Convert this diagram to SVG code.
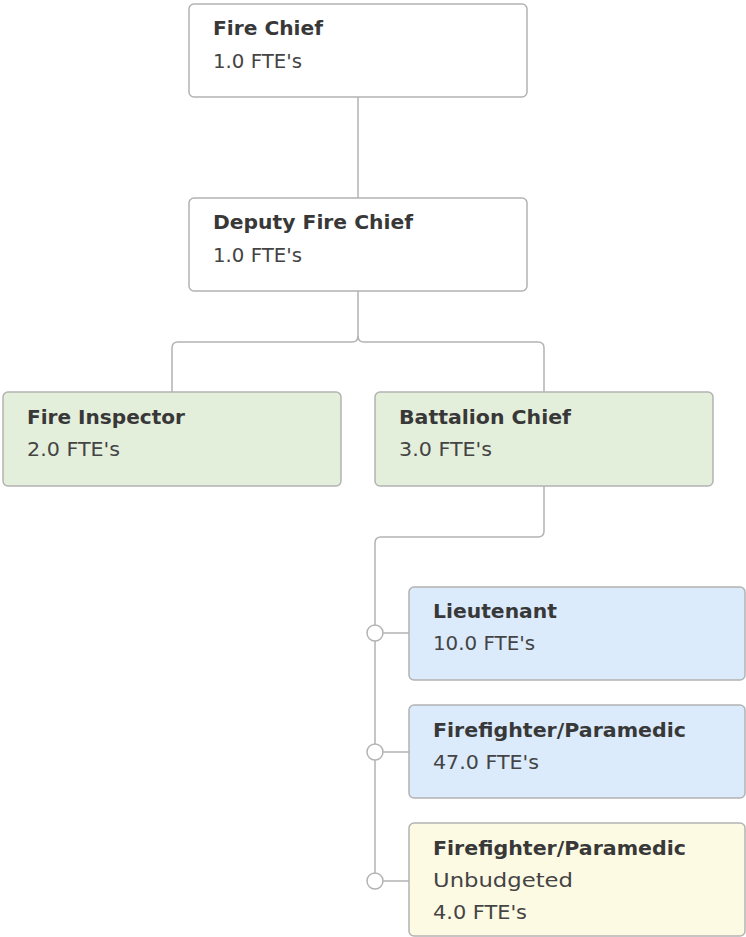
<svg xmlns="http://www.w3.org/2000/svg" width="746" height="937" viewBox="0 0 746 937">
  <style>
    .box { stroke: #b3b3b3; stroke-width: 1.5; }
    .white { fill: #ffffff; }
    .green { fill: #e4efdb; }
    .blue { fill: #dbebfc; }
    .yellow { fill: #fdfae4; }
    .title { font-family: "DejaVu Sans", "Liberation Sans", sans-serif; font-weight: bold; font-size: 19.5px; fill: #383838; }
    .sub { font-family: "DejaVu Sans", "Liberation Sans", sans-serif; font-size: 19.5px; fill: #444444; }
    .link { fill: none; stroke: #b3b3b3; stroke-width: 1.5; }
    .dot { fill: #ffffff; stroke: #b3b3b3; stroke-width: 1.5; }
  </style>

  <g id="connectors">
    <path class="link" d="M358 97 V198"/>
    <path class="link" d="M358 291 V336 Q358 342 352 342 H178 Q172 342 172 348 V392"/>
    <path class="link" d="M358 336 Q358 342 364 342 H538 Q544 342 544 348 V392"/>
    <path class="link" d="M544 486 V531 Q544 537 538 537 H381 Q375 537 375 543 V873"/>
    <path class="link" d="M383 633 H409"/>
    <path class="link" d="M383 752 H409"/>
    <path class="link" d="M383 881 H409"/>
    <circle class="dot" cx="375" cy="633" r="8"/>
    <circle class="dot" cx="375" cy="752" r="8"/>
    <circle class="dot" cx="375" cy="881" r="8"/>
  </g>

  <g id="fire-chief">
    <rect class="box white" x="189" y="4" width="338" height="93" rx="5"/>
    <text class="title" x="213" y="35" textLength="110" lengthAdjust="spacingAndGlyphs">Fire Chief</text>
    <text class="sub" x="213" y="68" textLength="89" lengthAdjust="spacingAndGlyphs">1.0 FTE's</text>
  </g>

  <g id="deputy-fire-chief">
    <rect class="box white" x="189" y="198" width="338" height="93" rx="5"/>
    <text class="title" x="213" y="229" textLength="200" lengthAdjust="spacingAndGlyphs">Deputy Fire Chief</text>
    <text class="sub" x="213" y="262" textLength="89" lengthAdjust="spacingAndGlyphs">1.0 FTE's</text>
  </g>

  <g id="fire-inspector">
    <rect class="box green" x="3" y="392" width="338" height="94" rx="5"/>
    <text class="title" x="27" y="424" textLength="158" lengthAdjust="spacingAndGlyphs">Fire Inspector</text>
    <text class="sub" x="27" y="456" textLength="93" lengthAdjust="spacingAndGlyphs">2.0 FTE's</text>
  </g>

  <g id="battalion-chief">
    <rect class="box green" x="375" y="392" width="338" height="94" rx="5"/>
    <text class="title" x="399" y="424" textLength="172" lengthAdjust="spacingAndGlyphs">Battalion Chief</text>
    <text class="sub" x="399" y="456" textLength="93" lengthAdjust="spacingAndGlyphs">3.0 FTE's</text>
  </g>

  <g id="lieutenant">
    <rect class="box blue" x="409" y="587" width="336" height="93" rx="5"/>
    <text class="title" x="433" y="618" textLength="124" lengthAdjust="spacingAndGlyphs">Lieutenant</text>
    <text class="sub" x="433" y="650" textLength="102" lengthAdjust="spacingAndGlyphs">10.0 FTE's</text>
  </g>

  <g id="firefighter-paramedic">
    <rect class="box blue" x="409" y="705" width="336" height="93" rx="5"/>
    <text class="title" x="433" y="737" textLength="253" lengthAdjust="spacingAndGlyphs">Firefighter/Paramedic</text>
    <text class="sub" x="433" y="769" textLength="106" lengthAdjust="spacingAndGlyphs">47.0 FTE's</text>
  </g>

  <g id="firefighter-paramedic-unbudgeted">
    <rect class="box yellow" x="409" y="823" width="336" height="113" rx="5"/>
    <text class="title" x="433" y="855" textLength="253" lengthAdjust="spacingAndGlyphs">Firefighter/Paramedic</text>
    <text class="sub" x="433" y="887" textLength="140" lengthAdjust="spacingAndGlyphs">Unbudgeted</text>
    <text class="sub" x="433" y="919" textLength="94" lengthAdjust="spacingAndGlyphs">4.0 FTE's</text>
  </g>
</svg>
